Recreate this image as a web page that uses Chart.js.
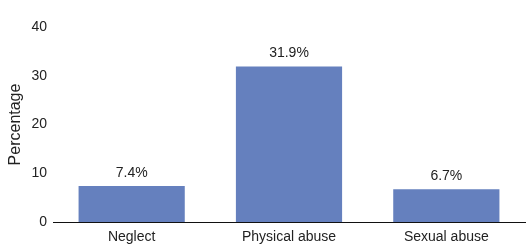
<!DOCTYPE html>
<html>
<head>
<meta charset="utf-8">
<script src="https://cdn.jsdelivr.net/npm/chart.js@4"></script>
<style>
  html, body { margin: 0; padding: 0; background: #fff; }
  #wrap { width: 531px; height: 249px; position: relative; }
</style>
</head>
<body>
<div id="wrap"><canvas id="chart"></canvas></div>
<script>
// chart data
const categories = ["Neglect", "Physical abuse", "Sexual abuse"];
const percentages = [7.4, 31.9, 6.7];
const valueLabels = ["7.4%", "31.9%", "6.7%"];
const yTicks = [0, 10, 20, 30, 40];

const textColor = "#222";
const barColor = "#6580BE";

// draws the percentage above each bar
const barLabels = {
  id: "barLabels",
  afterDatasetsDraw(chart) {
    const ctx = chart.ctx;
    const meta = chart.getDatasetMeta(0);
    ctx.save();
    ctx.font = "14px 'Liberation Sans', Arial, sans-serif";
    ctx.fillStyle = textColor;
    ctx.textAlign = "center";
    ctx.textBaseline = "middle";
    meta.data.forEach(function (bar, i) {
      ctx.fillText(valueLabels[i], bar.x, bar.y - 13);
    });
    ctx.restore();
  },
};

new Chart(document.getElementById("chart"), {
  type: "bar",
  data: {
    labels: categories,
    datasets: [
      {
        data: percentages,
        backgroundColor: barColor,
        categoryPercentage: 1,
        barPercentage: 0.675,
      },
    ],
  },
  options: {
    responsive: true,
    maintainAspectRatio: false,
    animation: false,
    layout: { padding: { top: 27, right: 6, bottom: 0, left: 0 } },
    plugins: {
      legend: { display: false },
      tooltip: { enabled: false },
    },
    scales: {
      x: {
        grid: { display: false, drawTicks: false },
        border: { display: true, color: "#111", width: 1 },
        ticks: {
          color: textColor,
          padding: 7,
          font: { family: "'Liberation Sans', Arial, sans-serif", size: 14 },
        },
        afterFit(scale) {
          scale.height = 27;
        },
      },
      y: {
        min: 0,
        max: 40,
        afterBuildTicks(scale) {
          scale.ticks = yTicks.map((v) => ({ value: v }));
        },
        grid: { display: false, drawTicks: false },
        border: { display: false },
        ticks: {
          color: textColor,
          padding: 6,
          font: { family: "'Liberation Sans', Arial, sans-serif", size: 14 },
        },
        title: {
          display: true,
          text: "Percentage",
          color: textColor,
          padding: { top: 6, bottom: 0 },
          font: { family: "'Liberation Sans', Arial, sans-serif", size: 16 },
        },
        afterFit(scale) {
          scale.width = 53;
        },
      },
    },
  },
  plugins: [barLabels],
});
</script>
</body>
</html>
